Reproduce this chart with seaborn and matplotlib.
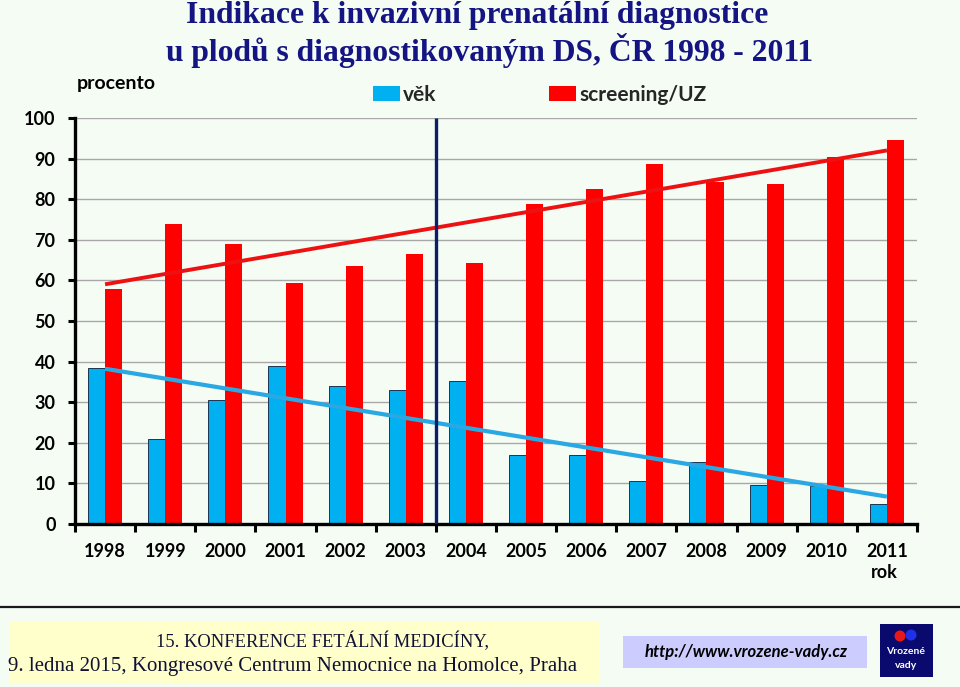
import numpy as np
import pandas as pd
import matplotlib
matplotlib.use('Agg')
import matplotlib.pyplot as plt
import seaborn as sns
from matplotlib.patches import Rectangle, Ellipse
from matplotlib.lines import Line2D

# ---- data ----
years = [str(y) for y in range(1998, 2012)]
vek = [38.5, 20.9, 30.6, 39.0, 34.0, 33.0, 35.3, 16.9, 17.0, 10.5, 15.3, 9.6, 9.4, 4.9]
screening = [57.9, 73.9, 68.9, 59.4, 63.6, 66.5, 64.2, 78.8, 82.5, 88.7, 84.3, 83.8, 90.3, 94.6]
series_names = ['věk', 'screening/UZ']
yticks = list(range(0, 101, 10))

df = pd.DataFrame({
    'rok': years * 2,
    'indikace': [series_names[0]] * len(years) + [series_names[1]] * len(years),
    'procento': vek + screening,
})

BG = '#F4FCF4'
NAVY = '#141482'
BLUE = '#00B0F0'
RED = '#FF0000'

sns.set_theme(style='white')
plt.rcParams['font.family'] = ['Lato', 'DejaVu Sans']

W, H = 960, 687
fig = plt.figure(figsize=(9.6, 6.87), dpi=100, facecolor=BG)
ax = fig.add_axes([75 / W, (H - 524) / H, (917 - 75) / W, (524 - 118) / H])
ax.set_facecolor(BG)

sns.barplot(data=df, x='rok', y='procento', hue='indikace',
            palette=[BLUE, RED], width=0.57, saturation=1, gap=0,
            linewidth=0, ax=ax)
for p in ax.containers[0]:
    p.set_edgecolor('#1B3550')
    p.set_linewidth(0.7)

idx = np.arange(len(years))
sns.regplot(x=idx, y=np.array(vek), scatter=False, ci=None, truncate=True, ax=ax,
            line_kws=dict(color='#2AA8E4', lw=3.0, solid_capstyle='butt'))
sns.regplot(x=idx, y=np.array(screening), scatter=False, ci=None, truncate=True, ax=ax,
            line_kws=dict(color='#EE1111', lw=2.8, solid_capstyle='butt'))

ax.vlines(5.5, 0, 100, color='#0B1F66', lw=2.4, zorder=6)

ax.set_xlim(-0.5, len(years) - 0.5)
ax.set_ylim(0, 100)
ax.set_xlabel('')
ax.set_ylabel('')
ax.set_axisbelow(True)
ax.yaxis.grid(True, color='#A8A8A8', lw=1.0)
ax.xaxis.grid(False)
for s in ['top', 'right']:
    ax.spines[s].set_visible(False)
for s in ['left', 'bottom']:
    ax.spines[s].set_color('black')
    ax.spines[s].set_linewidth(2.4)

ax.set_yticks(yticks)
ax.tick_params(axis='y', direction='out', length=5, width=2.2, color='black',
               labelsize=13, pad=9, left=True)
ax.set_xticks(idx)
ax.set_xticklabels(years)
ax.set_xticks(np.arange(-0.5, len(years), 1.0), minor=True)
ax.tick_params(axis='x', which='major', length=0, labelsize=13, pad=14)
ax.tick_params(axis='x', which='minor', direction='out', length=6, width=2.2,
               color='black', bottom=True)
for lab in ax.get_xticklabels() + ax.get_yticklabels():
    lab.set_fontweight('bold')
    lab.set_color('black')

# legend
handles, labels = ax.get_legend_handles_labels()
if ax.get_legend() is not None:
    ax.get_legend().remove()
leg = fig.legend(handles, labels, ncol=2, loc='center', bbox_to_anchor=(540 / W, 1 - 95 / H),
                 frameon=False, handlelength=1.3, handleheight=0.7, handletextpad=0.15,
                 columnspacing=5.4, prop=dict(family='Lato', weight='bold', size=15))

# texts
fig.text(477 / W, 1 - 16 / H, 'Indikace k invazivní prenatální diagnostice',
         ha='center', va='center', family='Liberation Serif', weight='bold',
         size=22.8, color=NAVY)
fig.text(490 / W, 1 - 50 / H, 'u plodů s diagnostikovaným DS, ČR 1998 - 2011',
         ha='center', va='center', family='Liberation Serif', weight='bold',
         size=22.8, color=NAVY)
fig.text(77 / W, 1 - 83 / H, 'procento', ha='left', va='center',
         weight='bold', size=14, color='black')
fig.text(884 / W, 1 - 572 / H, 'rok', ha='center', va='center',
         weight='bold', size=13, color='black')

# footer
fig.add_artist(Line2D([0, 1], [1 - 607 / H] * 2, transform=fig.transFigure,
                      color='#1A1A1A', lw=1.6))
fig.add_artist(Rectangle((10 / W, (H - 683) / H), 590 / W, 61 / H,
                         transform=fig.transFigure, facecolor='#FFFFCC', edgecolor='none'))
fig.text(323 / W, 1 - 641 / H, '15. KONFERENCE FETÁLNÍ MEDICÍNY,', ha='center', va='center',
         family='Liberation Serif', size=13.3, color='#111133')
fig.text(293 / W, 1 - 667 / H, '9. ledna 2015, Kongresové Centrum Nemocnice na Homolce, Praha',
         ha='center', va='center', family='Liberation Serif', size=15, color='#111133')
fig.add_artist(Rectangle((623 / W, (H - 668) / H), 244 / W, 32 / H,
                         transform=fig.transFigure, facecolor='#CCCCFF', edgecolor='none'))
fig.text(746 / W, 1 - 652 / H, 'http://www.vrozene-vady.cz', ha='center', va='center',
         family='Lato', weight='bold', style='italic', size=12, color='black')
fig.add_artist(Rectangle((880 / W, (H - 677) / H), 53 / W, 53 / H,
                         transform=fig.transFigure, facecolor='#0A0A6E', edgecolor='none'))
fig.add_artist(Ellipse((900 / W, 1 - 636 / H), 11 / W, 11 / H, transform=fig.transFigure,
                       facecolor='#E81818', edgecolor='none'))
fig.add_artist(Ellipse((911 / W, 1 - 635 / H), 11 / W, 11 / H, transform=fig.transFigure,
                       facecolor='#2030E8', edgecolor='none'))
fig.text(906 / W, 1 - 652 / H, 'Vrozené', ha='center', va='center',
         weight='bold', size=7.5, color='white')
fig.text(906 / W, 1 - 666 / H, 'vady', ha='center', va='center',
         weight='bold', size=7.5, color='white')

fig.savefig('out.png', dpi=100, facecolor=BG)
